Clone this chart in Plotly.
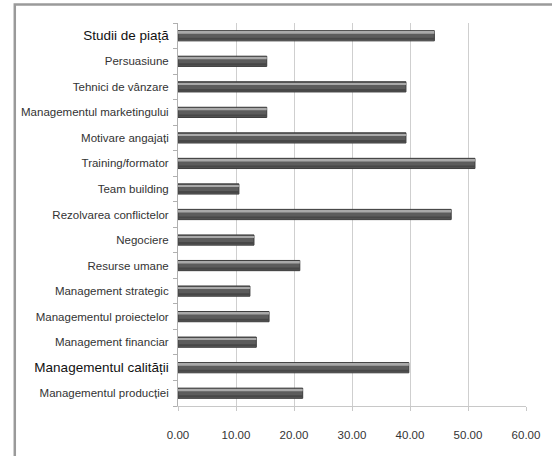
import plotly.graph_objects as go

categories = [
    "Studii de piață",
    "Persuasiune",
    "Tehnici de vânzare",
    "Managementul marketingului",
    "Motivare angajați",
    "Training/formator",
    "Team building",
    "Rezolvarea conflictelor",
    "Negociere",
    "Resurse umane",
    "Management strategic",
    "Managementul proiectelor",
    "Management financiar",
    "Managementul calității",
    "Managementul producției",
]
values = [44.2, 15.3, 39.3, 15.3, 39.3, 51.2, 10.5, 47.1, 13.1, 21.0, 12.4, 15.7, 13.5, 39.8, 21.5]
emphasised = {"Studii de piață", "Managementul calității"}
x_ticks = [0, 10, 20, 30, 40, 50, 60]
x_tick_labels = ["0.00", "10.00", "20.00", "30.00", "40.00", "50.00", "60.00"]

tick_text = [
    f"<span style='font-size:13.5px;color:#111'>{c}</span>" if c in emphasised else c
    for c in categories
]

fig = go.Figure()
# main cylinder body
fig.add_trace(go.Bar(
    y=categories, x=values, orientation="h",
    width=0.40, offset=-0.20,
    marker=dict(color="#5c5c5c", line=dict(color="#3c3c3c", width=1)),
    hoverinfo="x+y",
))
# light highlight along the upper edge of each bar
fig.add_trace(go.Bar(
    y=categories, x=values, orientation="h",
    width=0.07, offset=-0.15,
    marker=dict(color="#a9a9a9", line=dict(width=0)),
    hoverinfo="skip",
))
# darker band along the lower edge
fig.add_trace(go.Bar(
    y=categories, x=values, orientation="h",
    width=0.08, offset=0.08,
    marker=dict(color="#474747", line=dict(width=0)),
    hoverinfo="skip",
))

fig.update_layout(
    width=552, height=456,
    margin=dict(l=178, r=20, t=23, b=50),
    paper_bgcolor="white", plot_bgcolor="white",
    barmode="overlay", showlegend=False,
    font=dict(family="Liberation Sans Narrow, Arial Narrow, Liberation Sans, sans-serif", size=11.5, color="#333"),
    xaxis=dict(
        range=[0, 60], tickvals=x_ticks, ticktext=x_tick_labels,
        showgrid=True, gridcolor="#cfcfcf", gridwidth=1,
        showline=True, linecolor="#c8c8c8", linewidth=1,
        ticks="outside", ticklen=4, tickcolor="#c8c8c8",
        zeroline=False, ticklabelstandoff=14,
        tickfont=dict(size=11.5, color="#333"),
    ),
    yaxis=dict(
        categoryorder="array", categoryarray=categories,
        tickvals=categories, ticktext=tick_text,
        autorange="reversed",
        showline=True, linecolor="#b0b0b0", linewidth=1,
        ticks="outside", ticklen=4, tickcolor="#b0b0b0", tickson="boundaries",
        showgrid=False, ticklabelstandoff=6,
        tickfont=dict(size=11.5, color="#333"),
    ),
    shapes=[dict(
        type="rect", xref="paper", yref="paper",
        x0=-0.469, x1=1.15, y0=-0.2, y1=1.048,
        line=dict(color="#9a9a9a", width=2.5), layer="below",
    )],
)

fig.write_html("out.html")
